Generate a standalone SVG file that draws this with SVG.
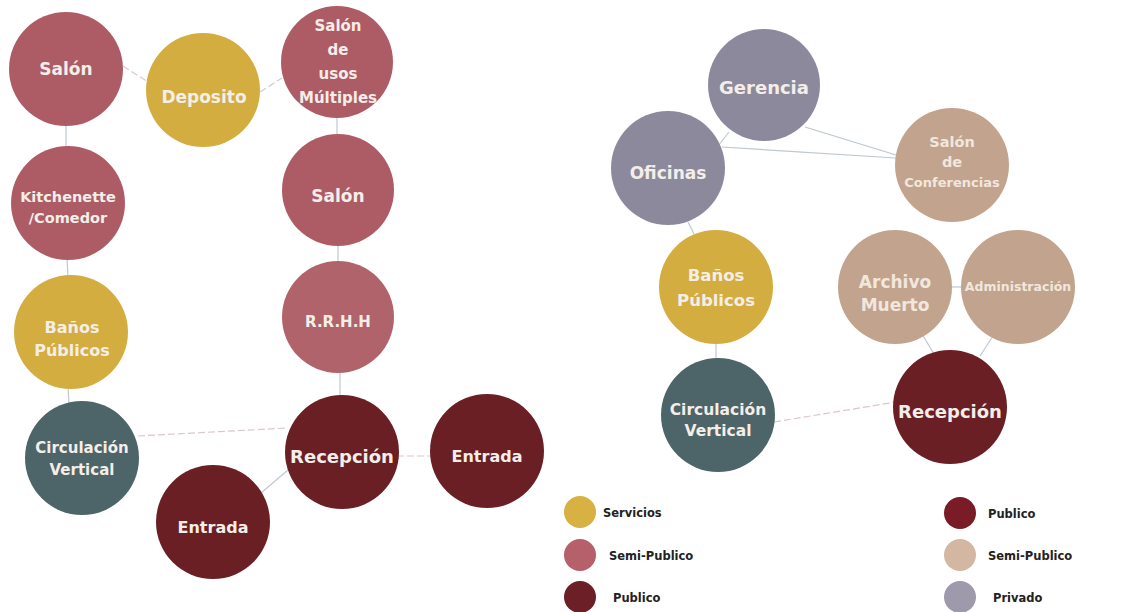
<svg xmlns="http://www.w3.org/2000/svg" width="1146" height="612" viewBox="0 0 1146 612">
<style>
text{font-family:"DejaVu Sans","Liberation Sans",sans-serif;font-weight:bold;text-anchor:middle;fill:#f4eee9}
.lg{fill:#222;text-anchor:start;font-size:11.5px}
.sp{fill:#ad5c66}.sv{fill:#d3ad3f}.pb{fill:#6a1f25}.cv{fill:#4d6468}.pr{fill:#8d899c}.st{fill:#c2a38e}
.c{stroke:#bcc8d2;stroke-width:1.2;fill:none}
.d{stroke:#dcc6ca;stroke-width:1.2;stroke-dasharray:7 3;fill:none}
.tl{fill:#f1e7dd}
</style>
<rect width="1146" height="612" fill="#ffffff"/>
<g id="connectors">
<line class="d" x1="123" y1="66" x2="148" y2="82"/>
<line class="d" x1="260" y1="92" x2="282" y2="78"/>
<line class="c" x1="66" y1="124" x2="66" y2="148"/>
<line class="c" x1="337" y1="116" x2="337" y2="136"/>
<line class="c" x1="67" y1="258" x2="68" y2="277"/>
<line class="c" x1="338" y1="244" x2="338" y2="263"/>
<line class="c" x1="68" y1="387" x2="69" y2="404"/>
<line class="c" x1="340" y1="371" x2="340" y2="397"/>
<line class="d" x1="138" y1="436" x2="287" y2="428"/>
<line class="d" x1="397" y1="456" x2="431" y2="456"/>
<line class="c" x1="288" y1="470" x2="261" y2="493"/>
<line class="c" x1="729" y1="132" x2="718" y2="146"/>
<line class="c" x1="722" y1="147" x2="896" y2="158"/>
<line class="c" x1="805" y1="127" x2="896" y2="155"/>
<line class="c" x1="688" y1="222" x2="694" y2="234"/>
<line class="c" x1="716" y1="342" x2="716" y2="360"/>
<line class="c" x1="951" y1="287" x2="963" y2="287"/>
<line class="c" x1="922" y1="334" x2="934" y2="354"/>
<line class="c" x1="993" y1="336" x2="980" y2="356"/>
<line class="d" x1="774" y1="422" x2="896" y2="402"/>
</g>
<g id="salon1"><circle class="sp" cx="66" cy="69" r="57"/><text x="66" y="75" font-size="17">Salón</text></g>
<g id="deposito"><circle class="sv" cx="203" cy="90" r="57"/><text x="204" y="103" font-size="17">Deposito</text></g>
<g id="salon-usos"><circle class="sp" cx="337" cy="62" r="56"/><text font-size="15"><tspan x="338" y="31">Salón</tspan><tspan x="338" y="55">de</tspan><tspan x="338" y="79">usos</tspan><tspan x="338" y="103">Múltiples</tspan></text></g>
<g id="kitchenette"><circle class="sp" cx="68" cy="203" r="57"/><text font-size="14.5"><tspan x="68" y="202">Kitchenette</tspan><tspan x="68" y="223">/Comedor</tspan></text></g>
<g id="salon2"><circle class="sp" cx="338" cy="190" r="56"/><text x="338" y="202" font-size="17">Salón</text></g>
<g id="banos1"><circle class="sv" cx="71" cy="332" r="57"/><text font-size="16"><tspan x="72" y="333">Baños</tspan><tspan x="72" y="356">Públicos</tspan></text></g>
<g id="rrhh"><circle class="sp" cx="338" cy="317" r="56" style="fill:#b0636b"/><text x="338" y="327" font-size="15">R.R.H.H</text></g>
<g id="circ1"><circle class="cv" cx="82" cy="458" r="57"/><text font-size="15"><tspan x="82" y="453">Circulación</tspan><tspan x="82" y="475">Vertical</tspan></text></g>
<g id="recepcion1"><circle class="pb" cx="342" cy="452" r="57"/><text x="342" y="463" font-size="18">Recepción</text></g>
<g id="entrada1"><circle class="pb" cx="487" cy="451" r="57"/><text x="487" y="462" font-size="16">Entrada</text></g>
<g id="entrada2"><circle class="pb" cx="213" cy="522" r="57"/><text x="213" y="533" font-size="16">Entrada</text></g>
<g id="gerencia"><circle class="pr" cx="764" cy="85" r="56"/><text x="764" y="94" font-size="18">Gerencia</text></g>
<g id="oficinas"><circle class="pr" cx="668" cy="168" r="57"/><text x="668" y="179" font-size="17">Oficinas</text></g>
<g id="conferencias"><circle class="st" cx="952" cy="165" r="57"/><text class="tl"><tspan x="952" y="147" font-size="14.5">Salón</tspan><tspan x="952" y="167" font-size="14.5">de</tspan><tspan x="952" y="187" font-size="13">Conferencias</tspan></text></g>
<g id="banos2"><circle class="sv" cx="716" cy="287" r="57"/><text font-size="16.5"><tspan x="716" y="281">Baños</tspan><tspan x="716" y="306">Públicos</tspan></text></g>
<g id="archivo"><circle class="st" cx="895" cy="287" r="57"/><text class="tl" font-size="17"><tspan x="895" y="288">Archivo</tspan><tspan x="895" y="311">Muerto</tspan></text></g>
<g id="administracion"><circle class="st" cx="1018" cy="287" r="57"/><text class="tl" x="1018" y="291" font-size="12.5">Administración</text></g>
<g id="circ2"><circle class="cv" cx="718" cy="415" r="57"/><text font-size="15.5"><tspan x="718" y="415">Circulación</tspan><tspan x="718" y="436">Vertical</tspan></text></g>
<g id="recepcion2"><circle class="pb" cx="950" cy="407" r="57"/><text x="950" y="418" font-size="18">Recepción</text></g>
<g id="legend">
<circle cx="580" cy="512" r="16" fill="#d7b243"/><text class="lg" x="603" y="517">Servicios</text>
<circle cx="580" cy="555" r="16" fill="#b5606a"/><text class="lg" x="609" y="560">Semi-Publico</text>
<circle cx="580" cy="597" r="16" fill="#6b1f26"/><text class="lg" x="613" y="602">Publico</text>
<circle cx="960" cy="513" r="16" fill="#7a1c25"/><text class="lg" x="988" y="518">Publico</text>
<circle cx="960" cy="555" r="16" fill="#d3b7a3"/><text class="lg" x="988" y="560">Semi-Publico</text>
<circle cx="960" cy="597" r="16" fill="#9e9aab"/><text class="lg" x="993" y="602">Privado</text>
</g>
</svg>
